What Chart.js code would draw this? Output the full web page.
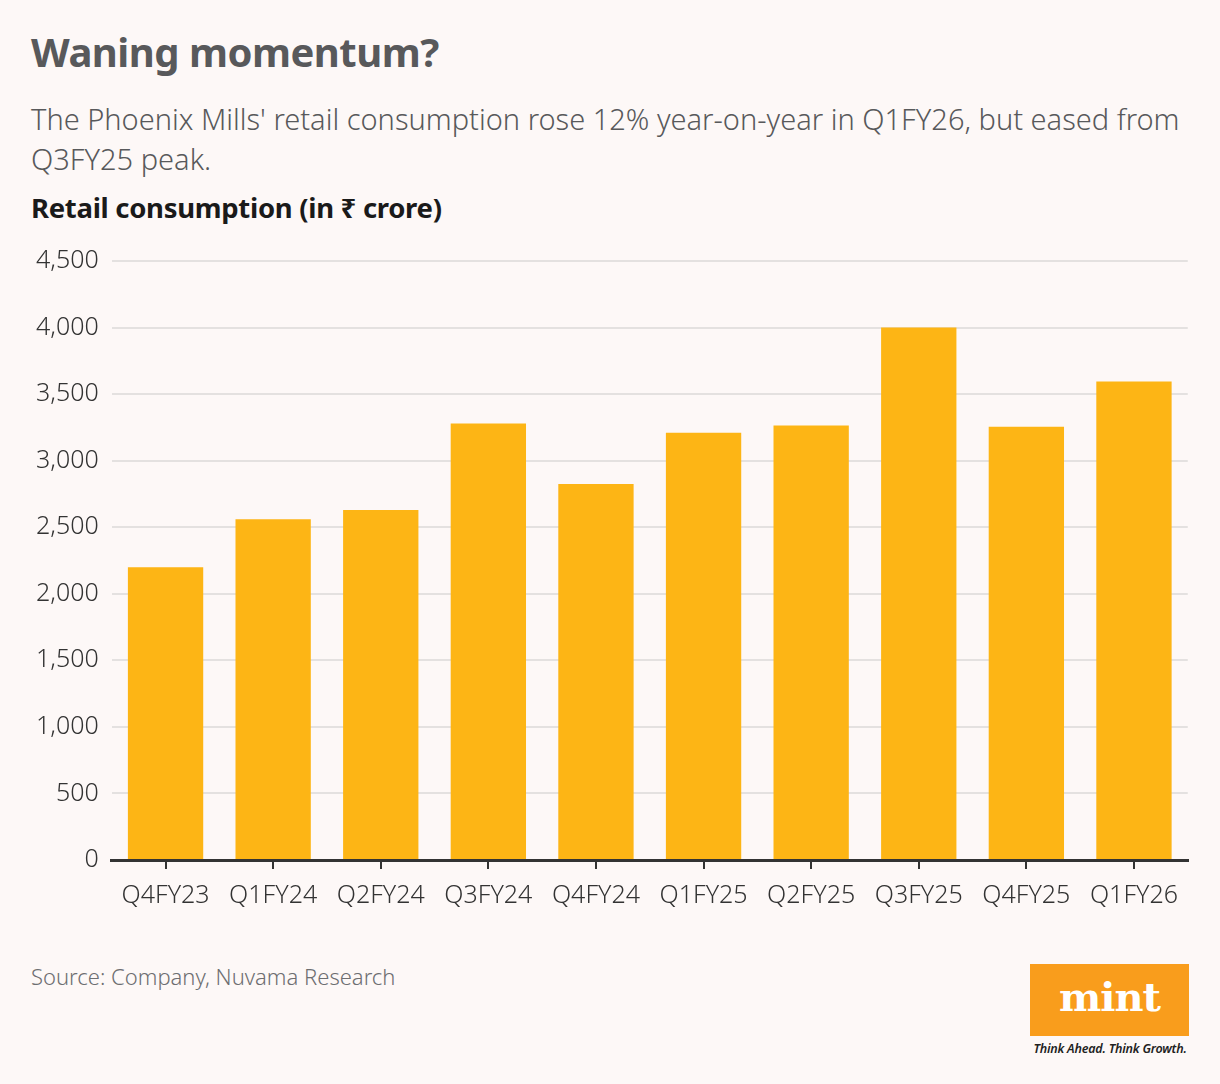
<!DOCTYPE html>
<html>
<head>
<meta charset="utf-8">
<script src="https://cdn.jsdelivr.net/npm/chart.js@4.4.1/dist/chart.umd.min.js"></script>
<style>
  html, body { margin: 0; padding: 0; background: #fdf8f7; }
  body { width: 1220px; height: 1084px; position: relative; overflow: hidden; font-family: "Noto Sans", sans-serif; }
  #title { position: absolute; left: 31px; top: 24px; font-size: 40px; font-weight: 700; color: #58595b; letter-spacing: -0.5px; }
  #subtitle { position: absolute; left: 31px; top: 99px; width: 1180px; font-size: 29px; font-weight: 300; color: #58595b; line-height: 40px; }
  #ylabel { position: absolute; left: 31px; top: 189px; font-size: 27.5px; font-weight: 700; color: #1a1a1a; letter-spacing: -0.3px; }
  #chartBox { position: absolute; left: 20px; top: 233px; width: 1170px; height: 690px; }
  #source { position: absolute; left: 31px; top: 961px; font-size: 22px; font-weight: 300; color: #6d6e71; }
  #logo { position: absolute; left: 1030px; top: 964px; width: 159px; height: 72px; background: #f99d1c; color: #fff; font-family: "DejaVu Serif", serif; font-weight: 700; font-size: 40px; text-align: center; line-height: 66px; letter-spacing: -1px; }
  #tag { position: absolute; left: 1030px; top: 1040px; width: 160px; font-size: 12.5px; font-style: italic; font-weight: 600; color: #222; text-align: center; letter-spacing: -0.2px; }
</style>
</head>
<body>
<div id="title">Waning momentum?</div>
<div id="subtitle">The Phoenix Mills' retail consumption rose 12% year-on-year in Q1FY26, but eased from Q3FY25 peak.</div>
<div id="ylabel">Retail consumption (in ₹ crore)</div>
<div id="chartBox"><canvas id="retailChart"></canvas></div>
<div id="source">Source: Company, Nuvama Research</div>
<div id="logo">mint</div>
<div id="tag">Think Ahead. Think Growth.</div>

<script>
const quarters = ['Q4FY23', 'Q1FY24', 'Q2FY24', 'Q3FY24', 'Q4FY24', 'Q1FY25', 'Q2FY25', 'Q3FY25', 'Q4FY25', 'Q1FY26'];
const retailConsumption = [2200, 2560, 2630, 3280, 2825, 3210, 3265, 4000, 3255, 3595];
const yTicks = [0, 500, 1000, 1500, 2000, 2500, 3000, 3500, 4000, 4500];

const ctx = document.getElementById('retailChart').getContext('2d');
new Chart(ctx, {
    type: 'bar',
    data: {
        labels: quarters,
        datasets: [{
            label: 'Retail consumption',
            data: retailConsumption,
            backgroundColor: '#fdb515',
            borderWidth: 0,
            categoryPercentage: 0.7,
            barPercentage: 1.0
        }]
    },
    options: {
        responsive: true,
        maintainAspectRatio: false,
        animation: false,
        layout: { padding: { top: 8, right: 0, left: 3, bottom: 0 } },
        plugins: {
            legend: { display: false },
            tooltip: { enabled: false }
        },
        scales: {
            y: {
                min: 0,
                max: 4500,
                afterBuildTicks: axis => { axis.ticks = yTicks.map(v => ({ value: v })); },
                border: { display: false },
                grid: { color: '#e4e1e0', lineWidth: 2, drawTicks: false },
                ticks: {
                    padding: 13,
                    color: '#333',
                    font: { family: 'Noto Sans', size: 25, weight: 300 },
                    callback: v => v.toLocaleString('en-US')
                }
            },
            x: {
                border: { display: true, color: '#333', width: 3 },
                grid: { offset: false, drawOnChartArea: false, drawTicks: true, tickLength: 9, color: '#333', lineWidth: 2 },
                ticks: {
                    padding: 12,
                    color: '#333',
                    font: { family: 'Noto Sans', size: 25, weight: 300 }
                }
            }
        }
    }
});
</script>
</body>
</html>
